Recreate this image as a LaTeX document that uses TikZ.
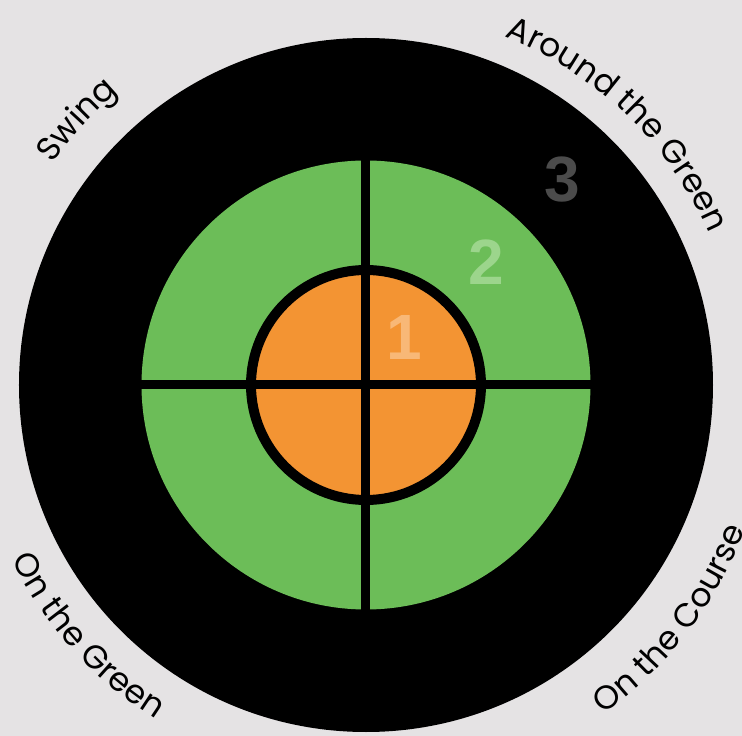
\documentclass[tikz,border=0pt]{standalone}
\usepackage{fontspec}
\usetikzlibrary{decorations.text}
\newfontfamily\lab{Poppins}
\newfontfamily\digfont{Liberation Sans}
\definecolor{bgc}{HTML}{E5E3E4}
\definecolor{grn}{HTML}{6CBD58}
\definecolor{org}{HTML}{F39433}
\definecolor{dthree}{HTML}{4B4B4B}
\definecolor{dtwo}{HTML}{9CD58C}
\definecolor{done}{HTML}{F8B877}
\tikzset{
  digit/.style={font=\digfont\bfseries\fontsize{64}{64}\selectfont, inner sep=0pt},
  crossline/.style={line width=9pt, black},
}
\begin{document}
\begin{tikzpicture}[x=1pt,y=1pt]
\fill[bgc] (-366,-351) rectangle (376,385);
\useasboundingbox (-366,-351) rectangle (376,385);
\fill[black] (0,0) circle[radius=347];
\fill[grn] (0,0) circle[radius=224.5];
\filldraw[fill=org, draw=black, line width=10pt] (0,0) circle[radius=115];
\coordinate (T) at (0,224.5);
\coordinate (B) at (0,-224.5);
\coordinate (L) at (-224.5,0);
\coordinate (R) at (224.5,0);
\draw[crossline] (T) -- (B);
\draw[crossline] (L) -- (R);
\node[digit, text=dthree] (n3) at (196,205) {3};
\node[digit, text=dtwo] (n2) at (120,123) {2};
\node[digit, text=done] (n1) at (38,48) {1};
% curved labels
\path[decorate, decoration={text along path, text align=center, text={|\lab\fontsize{33}{40}\selectfont|Swing}}]
  (177.5:384) arc[start angle=177.5, end angle=97.5, radius=384];
\path[decorate, decoration={text along path, text align=center, text={|\lab\fontsize{33}{40}\selectfont|Around the Green}}]
  (96:375) arc[start angle=96, end angle=-4, radius=375];
\path[decorate, decoration={text along path, text align=center, text={|\lab\fontsize{33}{40}\selectfont|On the Green}}]
  (172:395) arc[start angle=172, end angle=272, radius=395];
\path[decorate, decoration={text along path, text align=center, text={|\lab\fontsize{33}{40}\selectfont|On the Course}}]
  (-87.5:406) arc[start angle=-87.5, end angle=12.5, radius=406];
\end{tikzpicture}
\end{document}
